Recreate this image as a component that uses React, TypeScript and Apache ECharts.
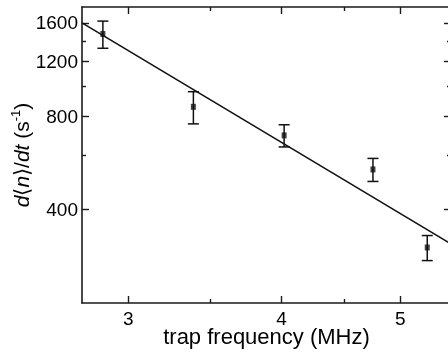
import React, { useEffect, useRef } from "react";
import * as echarts from "echarts";

// Measured data (trap frequency in MHz, rate in 1/s, symmetric error)
const freq = [2.86, 3.39, 4.02, 4.75, 5.26];
const rate = [1473, 858, 694, 539, 302];
const rateErr = [148, 102, 57, 46, 28];

// Power-law fit line end points
const fitX = [2.75, 5.5];
const fitY = [1600, 310];

// Axis ranges and ticks
const xRange = [2.75, 5.5];
const yRange = [200, 1800];
const xMajor = [3, 4, 5];
const xMinor = [3.5, 4.5];
const yMajor = [400, 800, 1200, 1600];
const yMinor = [600, 1000, 1400];

const FONT = '"Liberation Sans", Arial, Helvetica, sans-serif';
const AX = "#1a1a1a";
const lg = (v: number) => Math.log10(v);

export default function App() {
  const ref = useRef<HTMLDivElement>(null);
  useEffect(() => {
    if (!ref.current) return;
    const chart = echarts.init(ref.current, undefined, { renderer: "svg" });
    const xMin = lg(xRange[0]);
    const xMax = lg(xRange[1]);
    const yMin = lg(yRange[0]);
    const yMax = lg(yRange[1]);

    const mkX = (pos: "top" | "bottom", ticks: number[], len: number, main: boolean, labels: boolean) => ({
      type: "value",
      position: pos,
      min: xMin,
      max: xMax,
      splitLine: { show: false },
      axisLine: { show: main, lineStyle: { color: AX, width: 1.6 } },
      axisTick: {
        show: true,
        inside: true,
        length: len,
        customValues: ticks.map(lg),
        lineStyle: { color: AX, width: 1.4 },
      },
      axisLabel: labels
        ? {
            show: true,
            customValues: ticks.map(lg),
            formatter: (v: number) => String(Math.round(Math.pow(10, v))),
            fontSize: 19,
            lineHeight: 16,
            fontFamily: FONT,
            color: "#000",
            margin: 7,
          }
        : { show: false },
      ...(labels
        ? {
            name: "trap frequency (MHz)",
            nameLocation: "middle",
            nameGap: 24,
            nameMoveOverlap: false,
            nameTextStyle: { fontSize: 22, lineHeight: 19, fontFamily: FONT, color: "#000" },
          }
        : {}),
    });

    const mkY = (pos: "left" | "right", ticks: number[], len: number, main: boolean, labels: boolean) => ({
      type: "value",
      position: pos,
      min: yMin,
      max: yMax,
      splitLine: { show: false },
      axisLine: { show: main, lineStyle: { color: AX, width: 1.6 } },
      axisTick: {
        show: true,
        inside: true,
        length: len,
        customValues: ticks.map(lg),
        lineStyle: { color: AX, width: 1.4 },
      },
      axisLabel: labels
        ? {
            show: true,
            customValues: ticks.map(lg),
            formatter: (v: number) => String(Math.round(Math.pow(10, v))),
            fontSize: 19,
            fontFamily: FONT,
            color: "#000",
            margin: 4,
          }
        : { show: false },
      ...(labels
        ? {
            name: "{i|d}{n|⟨}{i|n}{n|⟩/}{i|dt}{n| (s}{sup|-1}{n|)}",
            nameLocation: "middle",
            nameRotate: 90,
            nameGap: 49,
            nameMoveOverlap: false,
            nameTextStyle: {
              fontSize: 21,
              fontFamily: FONT,
              color: "#000",
              rich: {
                i: { fontSize: 21, fontStyle: "italic", fontFamily: FONT, color: "#000", lineHeight: 24 },
                n: { fontSize: 21, fontFamily: FONT, color: "#000", lineHeight: 24 },
                sup: { fontSize: 13, fontFamily: FONT, color: "#000", verticalAlign: "top", lineHeight: 14 },
              },
            },
          }
        : {}),
    });

    const errData = freq.map((f, i) => [lg(f), lg(rate[i] - rateErr[i]), lg(rate[i] + rateErr[i])]);

    chart.setOption({
      animation: false,
      grid: { left: 82, top: 7, right: -3, bottom: 49, containLabel: false, outerBoundsMode: "none" },
      xAxis: [
        mkX("bottom", xMajor, 7, true, true),
        mkX("bottom", xMinor, 4, false, false),
        mkX("top", xMajor, 7, true, false),
        mkX("top", xMinor, 4, false, false),
      ],
      yAxis: [
        mkY("left", yMajor, 7, true, true),
        mkY("left", yMinor, 4, false, false),
        mkY("right", yMajor, 7, true, false),
        mkY("right", yMinor, 4, false, false),
      ],
      series: [
        {
          type: "line",
          data: fitX.map((x, i) => [lg(x), lg(fitY[i])]),
          showSymbol: false,
          symbol: "none",
          lineStyle: { color: "#111", width: 1.6 },
          silent: true,
        },
        {
          type: "custom",
          data: errData,
          renderItem: (params: any, api: any) => {
            const x = api.value(0);
            const lo = api.coord([x, api.value(1)]);
            const hi = api.coord([x, api.value(2)]);
            const hw = 5.5;
            const st = { stroke: "#111", lineWidth: 1.5 };
            return {
              type: "group",
              children: [
                { type: "line", shape: { x1: lo[0], y1: lo[1], x2: hi[0], y2: hi[1] }, style: st },
                { type: "line", shape: { x1: lo[0] - hw, y1: lo[1], x2: lo[0] + hw, y2: lo[1] }, style: st },
                { type: "line", shape: { x1: hi[0] - hw, y1: hi[1], x2: hi[0] + hw, y2: hi[1] }, style: st },
              ],
            };
          },
          silent: true,
        },
        {
          type: "scatter",
          data: freq.map((f, i) => [lg(f), lg(rate[i])]),
          symbol: "rect",
          symbolSize: [5, 6],
          itemStyle: { color: "#111" },
          silent: true,
        },
      ],
    });
    return () => chart.dispose();
  }, []);
  return <div ref={ref} style={{ position: "fixed", left: 0, top: 0, width: 448, height: 352 }} />;
}
